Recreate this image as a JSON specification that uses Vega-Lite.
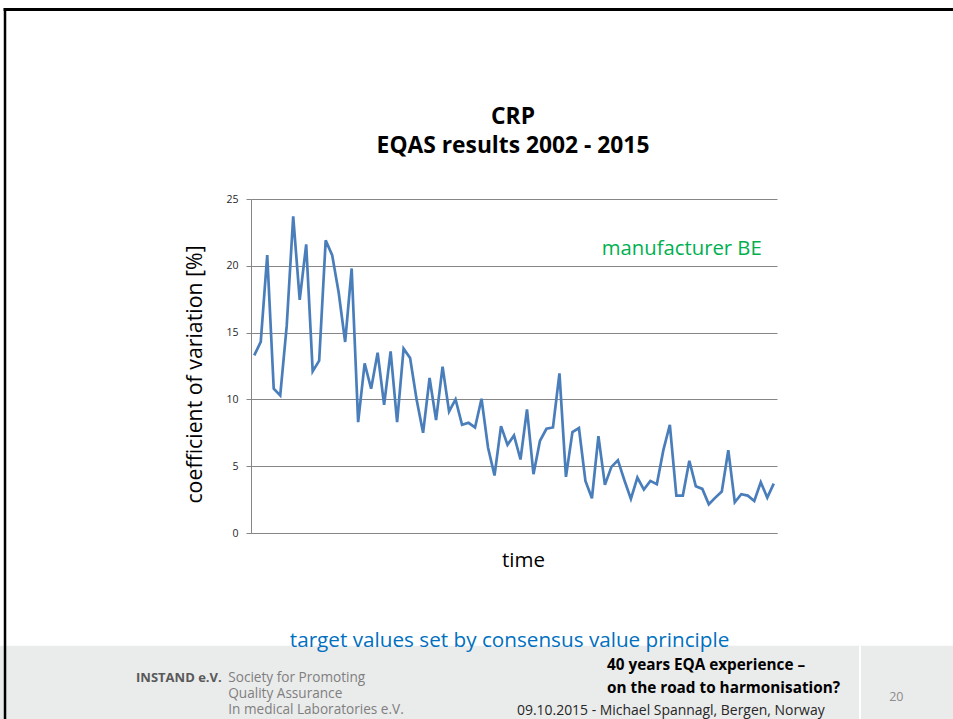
{
  "$schema": "https://vega.github.io/schema/vega-lite/v6.json",
  "width": 526,
  "height": 334,
  "autosize": {"type": "none"},
  "padding": {"left": 251, "top": 199, "right": 176, "bottom": 186},
  "background": "#ffffff",
  "config": {
    "view": {"stroke": null},
    "font": "Open Sans"
  },
  "data": {
    "values": [
      {"i": 1, "cv": 13.3}, {"i": 2, "cv": 14.3}, {"i": 3, "cv": 20.8}, {"i": 4, "cv": 10.8},
      {"i": 5, "cv": 10.3}, {"i": 6, "cv": 15.5}, {"i": 7, "cv": 23.7}, {"i": 8, "cv": 17.45},
      {"i": 9, "cv": 21.6}, {"i": 10, "cv": 12.1}, {"i": 11, "cv": 12.9}, {"i": 12, "cv": 21.9},
      {"i": 13, "cv": 20.8}, {"i": 14, "cv": 18.0}, {"i": 15, "cv": 14.3}, {"i": 16, "cv": 19.8},
      {"i": 17, "cv": 8.3}, {"i": 18, "cv": 12.7}, {"i": 19, "cv": 10.8}, {"i": 20, "cv": 13.5},
      {"i": 21, "cv": 9.6}, {"i": 22, "cv": 13.6}, {"i": 23, "cv": 8.3}, {"i": 24, "cv": 13.8},
      {"i": 25, "cv": 13.1}, {"i": 26, "cv": 10.0}, {"i": 27, "cv": 7.5}, {"i": 28, "cv": 11.6},
      {"i": 29, "cv": 8.45}, {"i": 30, "cv": 12.45}, {"i": 31, "cv": 9.1}, {"i": 32, "cv": 10.0},
      {"i": 33, "cv": 8.1}, {"i": 34, "cv": 8.25}, {"i": 35, "cv": 7.9}, {"i": 36, "cv": 10.05},
      {"i": 37, "cv": 6.4}, {"i": 38, "cv": 4.3}, {"i": 39, "cv": 8.0}, {"i": 40, "cv": 6.6},
      {"i": 41, "cv": 7.3}, {"i": 42, "cv": 5.5}, {"i": 43, "cv": 9.25}, {"i": 44, "cv": 4.4},
      {"i": 45, "cv": 6.9}, {"i": 46, "cv": 7.8}, {"i": 47, "cv": 7.9}, {"i": 48, "cv": 11.95},
      {"i": 49, "cv": 4.2}, {"i": 50, "cv": 7.55}, {"i": 51, "cv": 7.85}, {"i": 52, "cv": 3.9},
      {"i": 53, "cv": 2.6}, {"i": 54, "cv": 7.25}, {"i": 55, "cv": 3.6}, {"i": 56, "cv": 4.95},
      {"i": 57, "cv": 5.45}, {"i": 58, "cv": 3.95}, {"i": 59, "cv": 2.55}, {"i": 60, "cv": 4.15},
      {"i": 61, "cv": 3.25}, {"i": 62, "cv": 3.9}, {"i": 63, "cv": 3.65}, {"i": 64, "cv": 6.2},
      {"i": 65, "cv": 8.1}, {"i": 66, "cv": 2.8}, {"i": 67, "cv": 2.8}, {"i": 68, "cv": 5.4},
      {"i": 69, "cv": 3.5}, {"i": 70, "cv": 3.3}, {"i": 71, "cv": 2.15}, {"i": 72, "cv": 2.65},
      {"i": 73, "cv": 3.1}, {"i": 74, "cv": 6.2}, {"i": 75, "cv": 2.3}, {"i": 76, "cv": 2.9},
      {"i": 77, "cv": 2.8}, {"i": 78, "cv": 2.4}, {"i": 79, "cv": 3.8}, {"i": 80, "cv": 2.65},
      {"i": 81, "cv": 3.7}
    ]
  },
  "layer": [
    {
      "data": {"values": [{}]},
      "mark": {"type": "rect", "color": "#EAEBEB"},
      "encoding": {
        "x": {"datum": -38.2, "type": "quantitative", "scale": {"domain": [0.5, 81.5]}},
        "x2": {"datum": 108.6},
        "y": {"datum": -8.44, "type": "quantitative", "scale": {"domain": [0, 25]}},
        "y2": {"datum": -14.2}
      }
    },
    {
      "data": {"values": [{}]},
      "mark": {"type": "rule", "color": "#FFFFFF", "strokeWidth": 2},
      "encoding": {
        "x": {"datum": 94.28, "type": "quantitative"},
        "y": {"datum": -8.44, "type": "quantitative"},
        "y2": {"datum": -14.2}
      }
    },
    {
      "data": {"values": [{}]},
      "mark": {"type": "rule", "color": "#000000", "strokeWidth": 3},
      "encoding": {
        "x": {"datum": -37.6, "type": "quantitative"},
        "x2": {"datum": 108.6},
        "y": {"datum": 39.18, "type": "quantitative"}
      }
    },
    {
      "data": {"values": [{}]},
      "mark": {"type": "rule", "color": "#000000", "strokeWidth": 2.5},
      "encoding": {
        "x": {"datum": -37.38, "type": "quantitative"},
        "y": {"datum": 39.3, "type": "quantitative"},
        "y2": {"datum": -14.2}
      }
    },
    {
      "mark": {"type": "line", "color": "#4A7EBB", "strokeWidth": 2.7, "strokeJoin": "miter"},
      "encoding": {
        "x": {
          "field": "i", "type": "quantitative",
          "scale": {"domain": [0.5, 81.5], "nice": false, "zero": false},
          "axis": {
            "title": "time", "labels": false, "ticks": false, "grid": false,
            "domain": true, "domainColor": "#868686", "domainWidth": 1,
            "titleFontSize": 20.5, "titleFontWeight": "normal", "titleColor": "#000000",
            "titleFont": "Open Sans", "titlePadding": 17, "titleX": 272
          }
        },
        "y": {
          "field": "cv", "type": "quantitative",
          "scale": {"domain": [0, 25], "nice": false},
          "axis": {
            "title": "coefficient of variation [%]",
            "values": [0, 5, 10, 15, 20, 25],
            "grid": true, "gridColor": "#868686", "gridWidth": 1,
            "domain": true, "domainColor": "#868686",
            "ticks": true, "tickColor": "#868686", "tickSize": 5,
            "labelFontSize": 10.5, "labelColor": "#262626", "labelFont": "Open Sans", "labelPadding": 8,
            "titleFontSize": 21.3, "titleFontWeight": "normal", "titleColor": "#000000",
            "titleFont": "Open Sans", "titlePadding": 20, "titleY": 175
          }
        }
      }
    },
    {
      "data": {"values": [{}]},
      "mark": {"type": "text", "text": ["CRP", "EQAS results 2002 - 2015"], "color": "#000000", "fontSize": 22.8, "fontWeight": "bold", "lineHeight": 28.7, "align": "center", "baseline": "alphabetic"},
      "encoding": {"x": {"datum": 40.85, "type": "quantitative"}, "y": {"datum": 30.6, "type": "quantitative"}}
    },
    {
      "data": {"values": [{}]},
      "mark": {"type": "text", "text": "manufacturer BE", "color": "#00B050", "fontSize": 20.3, "align": "center", "baseline": "alphabetic"},
      "encoding": {"x": {"datum": 66.83, "type": "quantitative"}, "y": {"datum": 20.81, "type": "quantitative"}}
    },
    {
      "data": {"values": [{}]},
      "mark": {"type": "text", "text": "target values set by consensus value principle", "color": "#0070C0", "fontSize": 20.7, "align": "center", "baseline": "alphabetic"},
      "encoding": {"x": {"datum": 40.31, "type": "quantitative"}, "y": {"datum": -8.5, "type": "quantitative"}}
    },
    {
      "data": {"values": [{}]},
      "mark": {"type": "text", "text": "INSTAND e.V.", "color": "#595959", "fontSize": 13, "fontWeight": "bold", "align": "right", "baseline": "alphabetic"},
      "encoding": {"x": {"datum": -4.01, "type": "quantitative"}, "y": {"datum": -11.12, "type": "quantitative"}}
    },
    {
      "data": {"values": [{}]},
      "mark": {"type": "text", "text": ["Society for Promoting", "Quality Assurance", "In medical Laboratories e.V."], "color": "#7F7F7F", "fontSize": 13.6, "lineHeight": 16, "align": "left", "baseline": "alphabetic"},
      "encoding": {"x": {"datum": -3.0, "type": "quantitative"}, "y": {"datum": -11.15, "type": "quantitative"}}
    },
    {
      "data": {"values": [{}]},
      "mark": {"type": "text", "text": ["40 years EQA experience \u2013", "on the road to harmonisation?"], "color": "#000000", "fontSize": 15.3, "fontWeight": "bold", "lineHeight": 22.7, "align": "left", "baseline": "alphabetic"},
      "encoding": {"x": {"datum": 55.32, "type": "quantitative"}, "y": {"datum": -10.25, "type": "quantitative"}}
    },
    {
      "data": {"values": [{}]},
      "mark": {"type": "text", "text": "09.10.2015 - Michael Spannagl, Bergen, Norway", "color": "#262626", "fontSize": 13.95, "align": "left", "baseline": "alphabetic"},
      "encoding": {"x": {"datum": 41.46, "type": "quantitative"}, "y": {"datum": -13.62, "type": "quantitative"}}
    },
    {
      "data": {"values": [{}]},
      "mark": {"type": "text", "text": "20", "color": "#8C8C8C", "fontSize": 12.5, "align": "center", "baseline": "alphabetic"},
      "encoding": {"x": {"datum": 99.87, "type": "quantitative"}, "y": {"datum": -12.57, "type": "quantitative"}}
    }
  ]
}
